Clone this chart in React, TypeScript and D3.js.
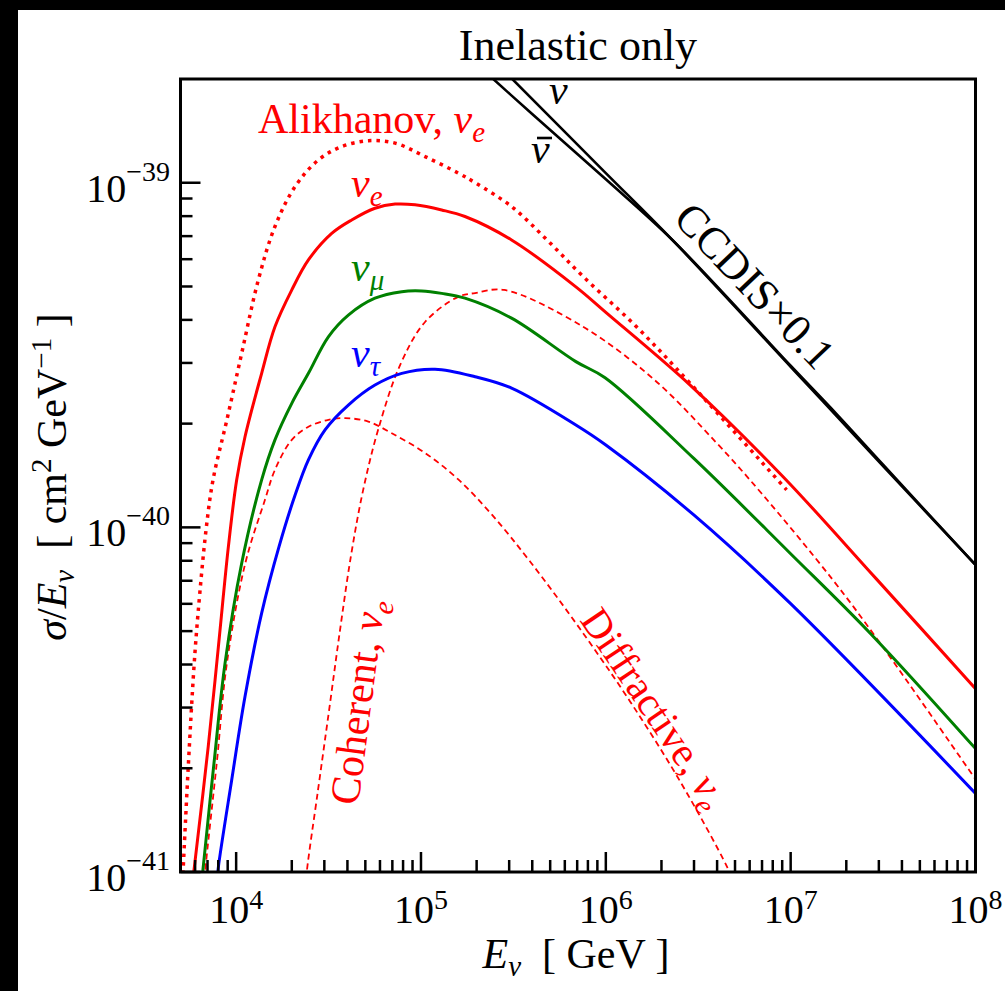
import React from 'react';
import * as d3 from 'd3';

const WIDTH = 1005;
const HEIGHT = 991;
const FONT = '"Liberation Serif", "Times New Roman", Times, serif';

const X_DOMAIN: [number, number] = [5e3, 1e8];
const Y_DOMAIN: [number, number] = [1e-41, 2e-39];

const X_LABEL_EXPONENTS = ['4', '5', '6', '7', '8'];
const X_LABEL_VALUES = [1e4, 1e5, 1e6, 1e7, 1e8];
const Y_LABEL_EXPONENTS = ['\u221241', '\u221240', '\u221239'];
const Y_LABEL_VALUES = [1e-41, 1e-40, 1e-39];

// pairs: [log10(E_nu / GeV), log10(sigma/E_nu / cm^2 GeV^-1)]
const nuEInelastic: [number, number][] = [
  [3.764, -41.03], [3.774, -40.985], [3.849, -40.636], [3.904, -40.346], [3.958, -40.056],
  [4.003, -39.862], [4.048, -39.737], [4.138, -39.553], [4.21, -39.418], [4.301, -39.311],
  [4.391, -39.224], [4.517, -39.147], [4.625, -39.108], [4.751, -39.074], [4.86, -39.062],
  [4.968, -39.064], [5.112, -39.079], [5.238, -39.098], [5.49, -39.166], [5.838, -39.302],
  [6.0, -39.376], [6.456, -39.587], [6.959, -39.853], [7.461, -40.148], [8.0, -40.468],
];

const nuEAlikhanov: [number, number][] = [
  [3.71, -41.03], [3.714, -40.985], [3.741, -40.694], [3.772, -40.404], [3.794, -40.249],
  [3.837, -40.008], [3.875, -39.862], [3.95, -39.688], [4.03, -39.495], [4.12, -39.282],
  [4.21, -39.127], [4.319, -39.011], [4.445, -38.934], [4.571, -38.895], [4.715, -38.878],
  [4.86, -38.885], [5.022, -38.924], [5.202, -38.972], [5.296, -39.001], [5.49, -39.069],
  [5.682, -39.166], [5.877, -39.272], [6.166, -39.418], [6.456, -39.582], [6.978, -39.891],
];

const nuMuInelastic: [number, number][] = [
  [3.814, -41.03], [3.822, -40.985], [3.88, -40.685], [3.94, -40.394], [4.03, -40.104],
  [4.138, -39.862], [4.21, -39.746], [4.301, -39.64], [4.391, -39.553], [4.499, -39.447],
  [4.607, -39.384], [4.751, -39.335], [4.896, -39.316], [5.004, -39.314], [5.112, -39.321],
  [5.238, -39.335], [5.49, -39.393], [5.838, -39.519], [5.996, -39.566], [6.476, -39.8],
  [6.997, -40.075], [7.43, -40.307], [8.0, -40.642],
];

const nuTauInelastic: [number, number][] = [
  [3.896, -41.03], [3.904, -40.985], [3.976, -40.733], [4.048, -40.491], [4.138, -40.249],
  [4.232, -40.056], [4.319, -39.906], [4.391, -39.804], [4.481, -39.717], [4.607, -39.645],
  [4.751, -39.587], [4.896, -39.553], [5.076, -39.541], [5.293, -39.563], [5.49, -39.596],
  [5.838, -39.703], [6.0, -39.761], [6.476, -39.964], [6.997, -40.22], [8.0, -40.772],
];

const nuECoherent: [number, number][] = [
  [4.375, -41.05], [4.382, -41.0], [4.443, -40.762], [4.503, -40.53], [4.562, -40.298],
  [4.622, -40.08], [4.687, -39.892], [4.768, -39.717], [4.887, -39.529], [5.022, -39.404],
  [5.201, -39.331], [5.293, -39.32], [5.45, -39.311], [5.877, -39.418], [6.263, -39.572],
  [6.601, -39.756], [6.842, -39.901], [7.229, -40.153], [7.484, -40.336], [8.0, -40.731],
];

const nuEDiffractive: [number, number][] = [
  [3.825, -41.05], [3.832, -41.0], [3.895, -40.684], [3.95, -40.394], [4.05, -40.103],
  [4.156, -39.92], [4.21, -39.833], [4.301, -39.746], [4.391, -39.708], [4.499, -39.688],
  [4.589, -39.683], [4.715, -39.693], [4.842, -39.727], [5.022, -39.784], [5.2, -39.86],
  [5.385, -39.964], [5.59, -40.099], [5.861, -40.295], [6.131, -40.505], [6.402, -40.737],
  [6.656, -40.985], [6.7, -41.04],
];

const ccdisNu: [number, number][] = [
  [5.35, -38.621], [5.49, -38.697], [6.0, -38.972], [6.36, -39.166], [7.0, -39.534],
  [7.25, -39.678], [7.5, -39.822], [8.0, -40.109],
];

const ccdisNuBar: [number, number][] = [
  [5.3, -38.655], [5.6, -38.8], [6.0, -38.99], [6.36, -39.166], [7.0, -39.531],
  [7.25, -39.672], [7.5, -39.818], [8.0, -40.109],
];

export default function App() {
  const left = 180.5;
  const right = 975.5;
  const top = 79;
  const bottom = 872;

  const x = d3.scaleLog().domain(X_DOMAIN).range([left, right]);
  const y = d3.scaleLog().domain(Y_DOMAIN).range([bottom, top]);

  const line = d3
    .line<[number, number]>()
    .x((d) => x(Math.pow(10, d[0])))
    .y((d) => y(Math.pow(10, d[1])))
    .curve(d3.curveCatmullRom.alpha(0.5));

  const isMajor = (v: number) => Math.abs(Math.log10(v) - Math.round(Math.log10(v))) < 1e-6;
  const xTicks = x.ticks();
  const yTicks = y.ticks();

  const MAJOR = 20;
  const MINOR = 12;
  const LBL = 42;
  const SUB = 29;
  const TICKFS = 40;
  const EXPFS = 28;

  const sub = (s: string) => (
    <>
      <tspan fontStyle="italic">{'\u03bd'}</tspan>
      <tspan fontStyle="italic" fontSize={SUB} dy={9}>
        {s}
      </tspan>
    </>
  );

  return (
    <svg
      width={WIDTH}
      height={HEIGHT}
      style={{ position: 'absolute', left: 0, top: 0, display: 'block' }}
      fontFamily={FONT}
    >
      <defs>
        <clipPath id="plotClip">
          <rect x={left} y={top} width={right - left} height={bottom - top} />
        </clipPath>
      </defs>
      <rect x={0} y={0} width={WIDTH} height={HEIGHT} fill="#000" />
      <rect x={18} y={10} width={WIDTH - 18} height={HEIGHT - 10} fill="#fff" />

      {/* Title */}
      <text x={578} y={60} fontSize={44} textAnchor="middle" fill="#000">
        Inelastic only
      </text>

      {/* curves */}
      <g clipPath="url(#plotClip)" fill="none">
        <path d={line(ccdisNu) || ''} stroke="#000" strokeWidth={2.6} />
        <path d={line(ccdisNuBar) || ''} stroke="#000" strokeWidth={2.6} />
        <path d={line(nuECoherent) || ''} stroke="#ff0000" strokeWidth={1.8} strokeDasharray="6 4" />
        <path d={line(nuEDiffractive) || ''} stroke="#ff0000" strokeWidth={1.8} strokeDasharray="6 4" />
        <path d={line(nuEAlikhanov) || ''} stroke="#ff0000" strokeWidth={3.5} strokeDasharray="3.5 5" />
        <path d={line(nuTauInelastic) || ''} stroke="#0000ff" strokeWidth={3} />
        <path d={line(nuMuInelastic) || ''} stroke="#008000" strokeWidth={3} />
        <path d={line(nuEInelastic) || ''} stroke="#ff0000" strokeWidth={3} />
      </g>

      {/* ticks */}
      <g stroke="#000" strokeWidth={2.5}>
        {xTicks.map((v, i) => {
          const px = x(v);
          const len = isMajor(v) ? MAJOR : MINOR;
          return <line key={'xt' + i} x1={px} x2={px} y1={bottom} y2={bottom - len} />;
        })}
        {yTicks.map((v, i) => {
          const py = y(v);
          const len = isMajor(v) ? MAJOR : MINOR;
          return <line key={'yt' + i} x1={left} x2={left + len} y1={py} y2={py} />;
        })}
      </g>

      {/* frame */}
      <rect x={left} y={top} width={right - left} height={bottom - top} fill="none" stroke="#000" strokeWidth={3} />

      {/* x tick labels */}
      {X_LABEL_VALUES.map((v, i) => (
        <text key={'xl' + i} x={x(v)} y={923} fontSize={TICKFS} textAnchor="middle" fill="#000">
          10
          <tspan fontSize={EXPFS} dy={-14}>
            {X_LABEL_EXPONENTS[i]}
          </tspan>
        </text>
      ))}

      {/* y tick labels */}
      {Y_LABEL_VALUES.map((v, i) => (
        <text key={'yl' + i} x={170} y={y(v) + 19} fontSize={TICKFS} textAnchor="end" fill="#000">
          10
          <tspan fontSize={EXPFS} dy={-21}>
            {Y_LABEL_EXPONENTS[i]}
          </tspan>
        </text>
      ))}

      {/* x axis title */}
      <text x={576} y={968} fontSize={LBL} textAnchor="middle" fill="#000" style={{ whiteSpace: 'pre' }}>
        <tspan fontStyle="italic">E</tspan>
        <tspan fontStyle="italic" fontSize={SUB} dy={8}>
          {'\u03bd'}
        </tspan>
        <tspan dy={-8}>{'  [ GeV ]'}</tspan>
      </text>

      {/* y axis title */}
      <text
        transform="translate(66,477) rotate(-90)"
        fontSize={LBL}
        textAnchor="middle"
        fill="#000"
        style={{ whiteSpace: 'pre' }}
      >
        <tspan fontStyle="italic">{'\u03c3'}</tspan>
        <tspan>/</tspan>
        <tspan fontStyle="italic">E</tspan>
        <tspan fontStyle="italic" fontSize={SUB} dy={8}>
          {'\u03bd'}
        </tspan>
        <tspan dy={-8}>{'  [ cm'}</tspan>
        <tspan fontSize={SUB} dy={-15}>
          2
        </tspan>
        <tspan dy={15}>{' GeV'}</tspan>
        <tspan fontSize={SUB} dy={-15}>
          {'\u22121'}
        </tspan>
        <tspan dy={15}>{' ]'}</tspan>
      </text>

      {/* curve labels */}
      <text x={258} y={133} fontSize={LBL} fill="#ff0000" style={{ whiteSpace: 'pre' }}>
        {'Alikhanov, '}
        {sub('e')}
      </text>
      <text x={351} y={197} fontSize={LBL} fill="#ff0000">
        {sub('e')}
      </text>
      <text x={351} y={281} fontSize={LBL} fill="#008000">
        {sub('\u03bc')}
      </text>
      <text x={351} y={367} fontSize={LBL} fill="#0000ff">
        {sub('\u03c4')}
      </text>
      <text x={549} y={104} fontSize={LBL} fill="#000" fontStyle="italic">
        {'\u03bd'}
      </text>
      <text x={531} y={163} fontSize={LBL} fill="#000" fontStyle="italic">
        {'\u03bd'}
      </text>
      <line x1={537} x2={552} y1={138} y2={138} stroke="#000" strokeWidth={2.6} />
      <text transform="translate(744,296) rotate(46.5)" fontSize={44} fill="#000" textAnchor="middle">
        {'CCDIS\u00d70.1'}
      </text>
      <text transform="translate(358,806) rotate(-82.5)" fontSize={LBL} fill="#ff0000" style={{ whiteSpace: 'pre' }}>
        {'Coherent, '}
        {sub('e')}
      </text>
      <text transform="translate(579,620) rotate(56)" fontSize={41} fill="#ff0000" style={{ whiteSpace: 'pre' }}>
        {'Diffractive, '}
        {sub('e')}
      </text>
    </svg>
  );
}
